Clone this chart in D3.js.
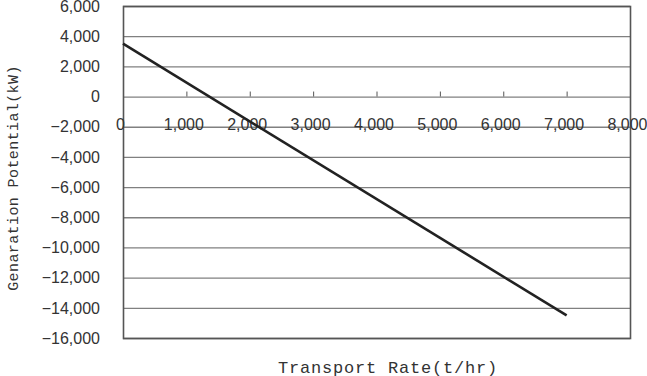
<!DOCTYPE html>
<meta charset="utf-8">
<style>
body { margin: 0; background: #fff; }
.tick-label { font: 16px "Liberation Sans", Arial, sans-serif; fill: #333; }
.title { font-family: "Liberation Mono", "DejaVu Sans Mono", monospace; fill: #333; }
</style>
<svg width="647" height="376"></svg>
<script src="https://d3js.org/d3.v7.min.js"></script>
<script>

// data
var rate = [0, 7000];            // t/hr
var potential = [3500, -14500];  // kW
var xTicks = [0, 1000, 2000, 3000, 4000, 5000, 6000, 7000, 8000];
var yTicks = [6000, 4000, 2000, 0, -2000, -4000, -6000, -8000, -10000, -12000, -14000, -16000];

var svg = d3.select("svg");
var plotL = 123, plotR = 630, plotT = 6, plotB = 338;

var x = d3.scaleLinear().domain([0, 8000]).range([plotL, plotR]);
var y = d3.scaleLinear().domain([-16000, 6000]).range([plotB, plotT]);
var fmt = d3.format(",");

// grid lines
svg.selectAll(".grid")
    .data(yTicks)
  .enter().append("line")
    .attr("x1", plotL).attr("x2", plotR)
    .attr("y1", function(d) { return y(d) + 0.5; })
    .attr("y2", function(d) { return y(d) + 0.5; })
    .attr("stroke", "#808080")
    .attr("stroke-width", 1.3);

// frame
svg.append("rect")
    .attr("x", plotL + 0.5).attr("y", plotT + 0.5)
    .attr("width", plotR - plotL).attr("height", plotB - plotT)
    .attr("fill", "none")
    .attr("stroke", "#555")
    .attr("stroke-width", 1.6);

// y labels
svg.selectAll(".ylab")
    .data(yTicks)
  .enter().append("text")
    .attr("class", "tick-label")
    .attr("x", 100)
    .attr("y", function(d) { return y(d); })
    .attr("dy", "0.36em")
    .attr("text-anchor", "end")
    .text(function(d) { return d < 0 ? "\u2212" + fmt(-d) : fmt(d); });

// small ticks on the zero line
svg.selectAll(".xtick")
    .data(xTicks.slice(1, -1))
  .enter().append("line")
    .attr("x1", function(d) { return x(d) + 0.5; })
    .attr("x2", function(d) { return x(d) + 0.5; })
    .attr("y1", y(0) - 5).attr("y2", y(0))
    .attr("stroke", "#555");

// x labels (drawn under the zero line, over the -2000 grid)
svg.selectAll(".xlab")
    .data(xTicks)
  .enter().append("text")
    .attr("class", "tick-label")
    .attr("x", function(d) { return x(d) - 2.5; })
    .attr("y", 130)
    .attr("text-anchor", "middle")
    .text(function(d) { return fmt(d); });

// the line
var line = d3.line()
    .x(function(d, i) { return x(rate[i]); })
    .y(function(d) { return y(d); });

svg.append("path")
    .datum(potential)
    .attr("d", line)
    .attr("fill", "none")
    .attr("stroke", "#222")
    .attr("stroke-width", 2.6);

// titles
svg.append("text")
    .attr("class", "title")
    .attr("x", 388).attr("y", 373)
    .attr("text-anchor", "middle")
    .style("font-size", "17px")
    .style("letter-spacing", "0.8px")
    .text("Transport Rate(t/hr)");

svg.append("text")
    .attr("class", "title")
    .attr("transform", "translate(18,178) rotate(-90)")
    .attr("text-anchor", "middle")
    .style("font-size", "15px")
    .style("letter-spacing", "0.4px")
    .text("Genaration Potential(kW)");

</script>
